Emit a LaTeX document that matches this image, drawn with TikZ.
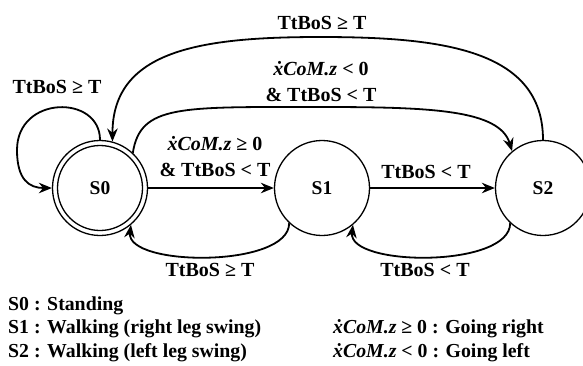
\documentclass[tikz,border=0pt]{standalone}
\usepackage{fontspec}
\setmainfont{Liberation Serif}
\usetikzlibrary{arrows.meta}
\newcommand\comz{\textit{\accent"02D9 xCoM.z}}
\begin{document}
\begin{tikzpicture}[x=1pt,y=-1pt,
  state/.style={circle, draw, line width=1.3pt, minimum size=95pt, inner sep=0pt,
    font=\fontsize{19.5}{23}\selectfont\bfseries},
  arr/.style={line width=1.8pt, -{Stealth[length=13pt,width=10.5pt]}},
  lbl/.style={inner sep=0pt, align=center, font=\fontsize{20}{26}\selectfont\bfseries},
  leg/.style={inner sep=0pt, anchor=base west, font=\fontsize{19.8}{23}\selectfont\bfseries}]
\useasboundingbox[fill=white] (0,0) rectangle (583,365);

% states
\node[state] (S0) at (100,188) {S0};
\draw[line width=1.3pt] (S0.center) circle[radius=42.5pt];
\node[state] (S1) at (322,188) {S1};
\node[state] (S2) at (543,188) {S2};

% helper points
\coordinate (loopc) at (17,150);
\coordinate (topc) at (320,37);
\coordinate (midc) at (320,107);

% self loop
\draw[arr] (S0.north) .. controls +(0,-45.5) and +(0,-55) .. (loopc)
  .. controls +(0,30) and +(-22.5,0) .. (S0.west);

% straight
\draw[arr] (S0.east) -- (S1.west);
\draw[arr] (S1.east) -- (S2.west);

% bottom returns
\draw[arr] (S1.227) .. controls +(0,45) and +(-5,42) .. (S0.310);
\draw[arr] (S2.227) .. controls +(0,45) and +(-5,42) .. (S1.310);

% middle arc S0 -> S2
\draw[arr] (S0.47) .. controls +(7.6,-48.3) and +(-140,0) .. (midc)
  .. controls +(110,0) and +(-12.5,-41.6) .. (S2.130);

% outer arc S2 -> S0
\draw[arr] (S2.north) .. controls +(0,-91) and +(120,0) .. (topc)
  .. controls +(-120,0) and +(0,-91) .. (S0.75);

% labels
\node[lbl] (Lloop) at (57,87) {TtBoS ≥ T};
\node[lbl] (L01) at (215,157) {\comz{} ≥ 0\\\& TtBoS < T};
\node[lbl] (L12) at (426,172) {TtBoS < T};
\node[lbl] (L10) at (210,270) {TtBoS ≥ T};
\node[lbl] (L21) at (425,270) {TtBoS < T};
\node[lbl] (L02) at (321,82) {\comz{} < 0\\\& TtBoS < T};
\node[lbl] (L20) at (322,23) {TtBoS ≥ T};

% legend
\node[leg] (g0) at (8,310) {S0 : Standing};
\node[leg] (g1) at (8,333.5) {S1 : Walking (right leg swing)};
\node[leg] (g2) at (8,357) {S2 : Walking (left leg swing)};
\node[leg] (g3) at (333,333.5) {\comz{} ≥ 0 : Going right};
\node[leg] (g4) at (333,357) {\comz{} < 0 : Going left};
\end{tikzpicture}
\end{document}
